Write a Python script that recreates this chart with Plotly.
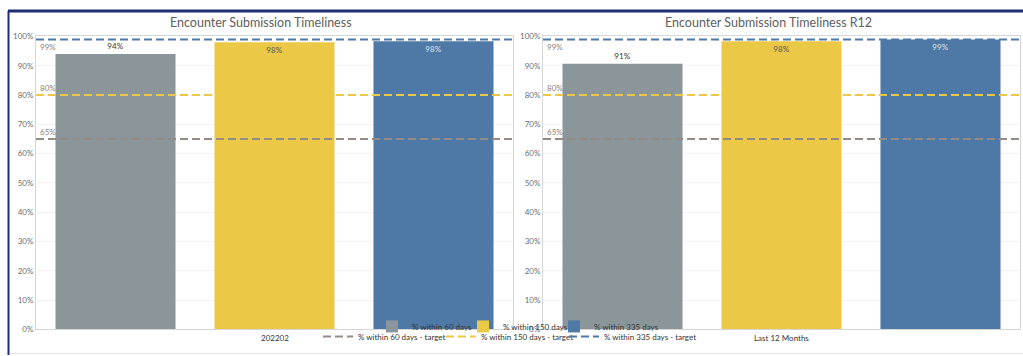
import plotly.graph_objects as go

# ---------------- data ----------------
series = ["% within 60 days", "% within 150 days", "% within 335 days"]
periods = ["202202", "Last 12 Months"]
titles = ["Encounter Submission Timeliness", "Encounter Submission Timeliness R12"]
values_202202 = [0.94, 0.98, 0.984]
values_r12 = [0.907, 0.984, 0.99]
targets = [0.65, 0.80, 0.99]
target_names = [s + " - target" for s in series]
y_ticks = [0.0, 0.1, 0.2, 0.3, 0.4, 0.5, 0.6, 0.7, 0.8, 0.9, 1.0]
y_tick_labels = ["0%", "10%", "20%", "30%", "40%", "50%", "60%", "70%", "80%", "90%", "100%"]

# ---------------- styles ----------------
W, H = 1023, 356
PUSH = 4  # bottom margin that the lower legend pushes in


def py(pix):
    """pixel row (from top of the page) -> paper y, allowing for the legend push"""
    return (H - PUSH - pix) / (H - PUSH)


FONT = "Lato"
bar_colors = ["#8b969b", "#ebc846", "#4e78a6"]
line_colors = ["#958b85", "#ebc846", "#4e78a6"]
text_colors = ["#333333", "#555555", "#dfe6ef"]
text_pos = ["outside", "inside", "inside"]
bar_legend_w = [46, 46, 80]
line_legend_w = [78, 78, 110]

fig = go.Figure()

panel_values = [values_202202, values_r12]
axes = [("x", "y"), ("x2", "y2")]
for p, (vals, (xa, ya)) in enumerate(zip(panel_values, axes)):
    for i, s in enumerate(series):
        fig.add_trace(go.Bar(
            x=[s], y=[vals[i]], name=s, xaxis=xa, yaxis=ya,
            marker=dict(color=bar_colors[i], line=dict(width=0)),
            texttemplate="%{y:.0%}", textposition=text_pos[i],
            insidetextanchor="end",
            textfont=dict(size=8, color=text_colors[i], family=FONT),
            outsidetextfont=dict(size=8, color=text_colors[i], family=FONT),
            insidetextfont=dict(size=8, color=text_colors[i], family=FONT),
            showlegend=(p == 0), legendgroup=s, legend="legend",
            legendwidth=bar_legend_w[i],
            cliponaxis=False, hoverinfo="skip",
        ))

shapes = []
annotations = []
for p, (xa, ya) in enumerate(axes):
    for i, t in enumerate(targets):
        shapes.append(dict(
            type="line", xref=f"{xa} domain", yref=ya, x0=0, x1=1, y0=t, y1=t,
            line=dict(color=line_colors[i], width=2, dash="8px,4px"),
            layer="above", name=target_names[i], showlegend=(p == 0),
            legend="legend2", legendgroup=target_names[i],
            legendwidth=line_legend_w[i],
        ))
        below = t > 0.95
        annotations.append(dict(
            xref=f"{xa} domain", yref=ya, x=0, y=t, xanchor="left",
            yanchor="top" if below else "bottom", xshift=2,
            yshift=-1 if below else 0, showarrow=False,
            text=f"{t:.0%}", font=dict(size=8, color="#8c817a", family=FONT),
        ))
    # column header below the panel
    annotations.append(dict(
        xref=f"{xa} domain", yref="paper", x=0.5, y=py(339),
        xanchor="center", yanchor="middle", showarrow=False,
        text=periods[p], font=dict(size=8, color="#333333", family=FONT),
    ))

# titles
title_centers = [261, 768]
for p, t in enumerate(titles):
    annotations.append(dict(
        xref="paper", yref="paper", x=title_centers[p] / W, y=py(18),
        xanchor="center", yanchor="middle", showarrow=False,
        text=t, font=dict(size=12.5, color="#606060", family=FONT),
    ))

# dashboard frame
shapes += [
    dict(type="line", xref="paper", yref="paper", x0=8 / W, x1=1,
         y0=py(6), y1=py(6), line=dict(color="#1f2e73", width=3)),
    dict(type="line", xref="paper", yref="paper", x0=8.5 / W, x1=8.5 / W,
         y0=py(H), y1=py(6), line=dict(color="#1f2e73", width=2)),
    dict(type="line", xref="paper", yref="paper", x0=10 / W, x1=1,
         y0=py(354.5), y1=py(354.5), line=dict(color="#e3e3e3", width=1)),
]

xcommon = dict(type="category", categoryorder="array", categoryarray=series,
               showticklabels=False, ticks="", showgrid=False, showline=True,
               linecolor="#d6d6d6", linewidth=1, mirror=True, zeroline=False)
ycommon = dict(range=[0, 1.0], tickvals=y_ticks, ticktext=y_tick_labels,
               tickfont=dict(size=8, color="#6e6e6e", family=FONT),
               showgrid=True, gridcolor="#f3f3f3", gridwidth=1,
               showline=True, linecolor="#d6d6d6", linewidth=1, mirror=True,
               zeroline=False, ticks="", domain=[py(330), py(32)])

fig.update_layout(
    width=W, height=H, margin=dict(l=0, r=0, t=0, b=0, pad=0),
    paper_bgcolor="white", plot_bgcolor="white",
    font=dict(family=FONT, size=8, color="#333333"),
    bargap=0.245,
    xaxis=dict(domain=[36 / W, 513 / W], anchor="y", **xcommon),
    yaxis=dict(anchor="x", **ycommon),
    xaxis2=dict(domain=[543 / W, 1020 / W], anchor="y2", **xcommon),
    yaxis2=dict(anchor="x2", **ycommon),
    shapes=shapes, annotations=annotations,
    legend=dict(orientation="h", x=372 / W, xanchor="left", y=py(327),
                yanchor="middle", bgcolor="rgba(0,0,0,0)", borderwidth=0,
                font=dict(size=8, color="#333333", family=FONT),
                itemwidth=30, entrywidthmode="pixels"),
    legend2=dict(orientation="h", x=318 / W, xanchor="left", y=0,
                 yanchor="bottom", bgcolor="rgba(0,0,0,0)", borderwidth=0,
                 font=dict(size=8, color="#333333", family=FONT),
                 itemwidth=30, entrywidthmode="pixels"),
)

fig.write_html("out.html")
